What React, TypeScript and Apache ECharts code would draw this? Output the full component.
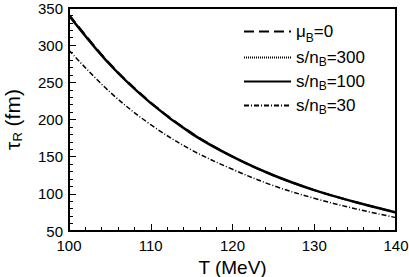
import React, { useEffect, useRef } from "react";
import * as echarts from "echarts";

const temperatures = [100, 105, 110, 115, 120, 125, 130, 135, 140];
const muB0 = [341, 275, 223, 182, 150, 125, 105, 89, 75];
const snB300 = [340, 274, 222, 181, 150, 125, 105, 89, 75];
const snB100 = [340, 274, 222, 181, 150, 125, 105, 89, 75];
const snB30 = [293, 237, 193, 159, 133, 111, 94, 80, 68];

const xTicks = [100, 110, 120, 130, 140];
const yTicks = [50, 100, 150, 200, 250, 300, 350];

const seriesNames = ["μB=0", "s/nB=300", "s/nB=100", "s/nB=30"];

const FONT = "Liberation Sans, Arial, Helvetica, sans-serif";

function pairs(vals: number[]) {
  return temperatures.map((t, i) => [t, vals[i]]);
}

export default function App() {
  const ref = useRef<HTMLDivElement>(null);
  useEffect(() => {
    if (!ref.current) return;
    const chart = echarts.init(ref.current, undefined, { renderer: "svg" });
    const mkSeries = (name: string, data: number[], width: number, type: any, z: number) => ({
      name,
      type: "line",
      data: pairs(data),
      smooth: 0.35,
      symbol: "none",
      color: "#000",
      z,
      lineStyle: { color: "#000", width, type },
    });
    chart.setOption({
      animation: false,
      textStyle: { fontFamily: FONT },
      grid: {
        left: 69,
        right: 13,
        top: 8,
        bottom: 46,
        containLabel: false,
        outerBoundsMode: "none",
        show: true,
        borderColor: "#000",
        borderWidth: 2,
        backgroundColor: "transparent",
      },
      legend: {
        orient: "vertical",
        left: 238,
        top: 18,
        itemWidth: 47,
        itemHeight: 14,
        itemGap: 5,
        data: seriesNames,
        itemStyle: { opacity: 0 },
        formatter: (name: string) => {
          if (name === "μB=0") return "{a|μ}{mu|B}{a|=0}";
          const v = name.split("=")[1];
          return "{a|s/n}{sub|B}{a|=" + v + "}";
        },
        textStyle: {
          color: "#000",
          fontFamily: FONT,
          fontSize: 17,
          rich: {
            a: { fontSize: 17, color: "#000", fontFamily: FONT },
            sub: { fontSize: 12, color: "#000", fontFamily: FONT, padding: [9, 0, 0, 0] },
            mu: { fontSize: 12, color: "#000", fontFamily: FONT, padding: [13, 0, 0, 0] },
          },
        },
      },
      xAxis: {
        type: "value",
        min: xTicks[0],
        max: xTicks[xTicks.length - 1],
        interval: 10,
        name: "T (MeV)",
        nameLocation: "middle",
        nameGap: 25,
        nameTextStyle: { fontSize: 19, color: "#000", fontFamily: FONT },
        axisLine: { show: true, lineStyle: { color: "#000", width: 2 } },
        axisTick: { inside: true, length: 7, lineStyle: { color: "#000", width: 1 } },
        minorTick: { show: true, splitNumber: 5, length: 4, lineStyle: { color: "#000", width: 1 } },
        axisLabel: { fontSize: 15, color: "#000", margin: 7, fontFamily: FONT },
        splitLine: { show: false },
      },
      yAxis: {
        type: "value",
        min: yTicks[0],
        max: yTicks[yTicks.length - 1],
        interval: 50,
        name: "{t|τ}{s|R}{t| (fm)}",
        nameLocation: "middle",
        nameGap: 45,
        nameRotate: 90,
        nameTextStyle: {
          color: "#000",
          fontFamily: FONT,
          rich: {
            t: { fontSize: 21, color: "#000", fontFamily: FONT },
            s: { fontSize: 13, color: "#000", fontFamily: FONT, padding: [11, 0, 0, 0] },
          },
        },
        axisLine: { show: true, lineStyle: { color: "#000", width: 2 } },
        axisTick: { inside: true, length: 7, lineStyle: { color: "#000", width: 1 } },
        minorTick: { show: true, splitNumber: 5, length: 4, lineStyle: { color: "#000", width: 1 } },
        axisLabel: { fontSize: 15, color: "#000", margin: 6, fontFamily: FONT },
        splitLine: { show: false },
      },
      series: [
        mkSeries(seriesNames[0], muB0, 2, [10, 5], 4),
        mkSeries(seriesNames[1], snB300, 1, [1, 1], 3),
        mkSeries(seriesNames[2], snB100, 2.5, "solid", 2),
        mkSeries(seriesNames[3], snB30, 1.5, [5, 2, 1, 2], 1),
      ],
    });
    return () => chart.dispose();
  }, []);
  return (
    <div
      ref={ref}
      style={{ position: "fixed", left: 0, top: 0, width: 409, height: 277, background: "#fff" }}
    />
  );
}
